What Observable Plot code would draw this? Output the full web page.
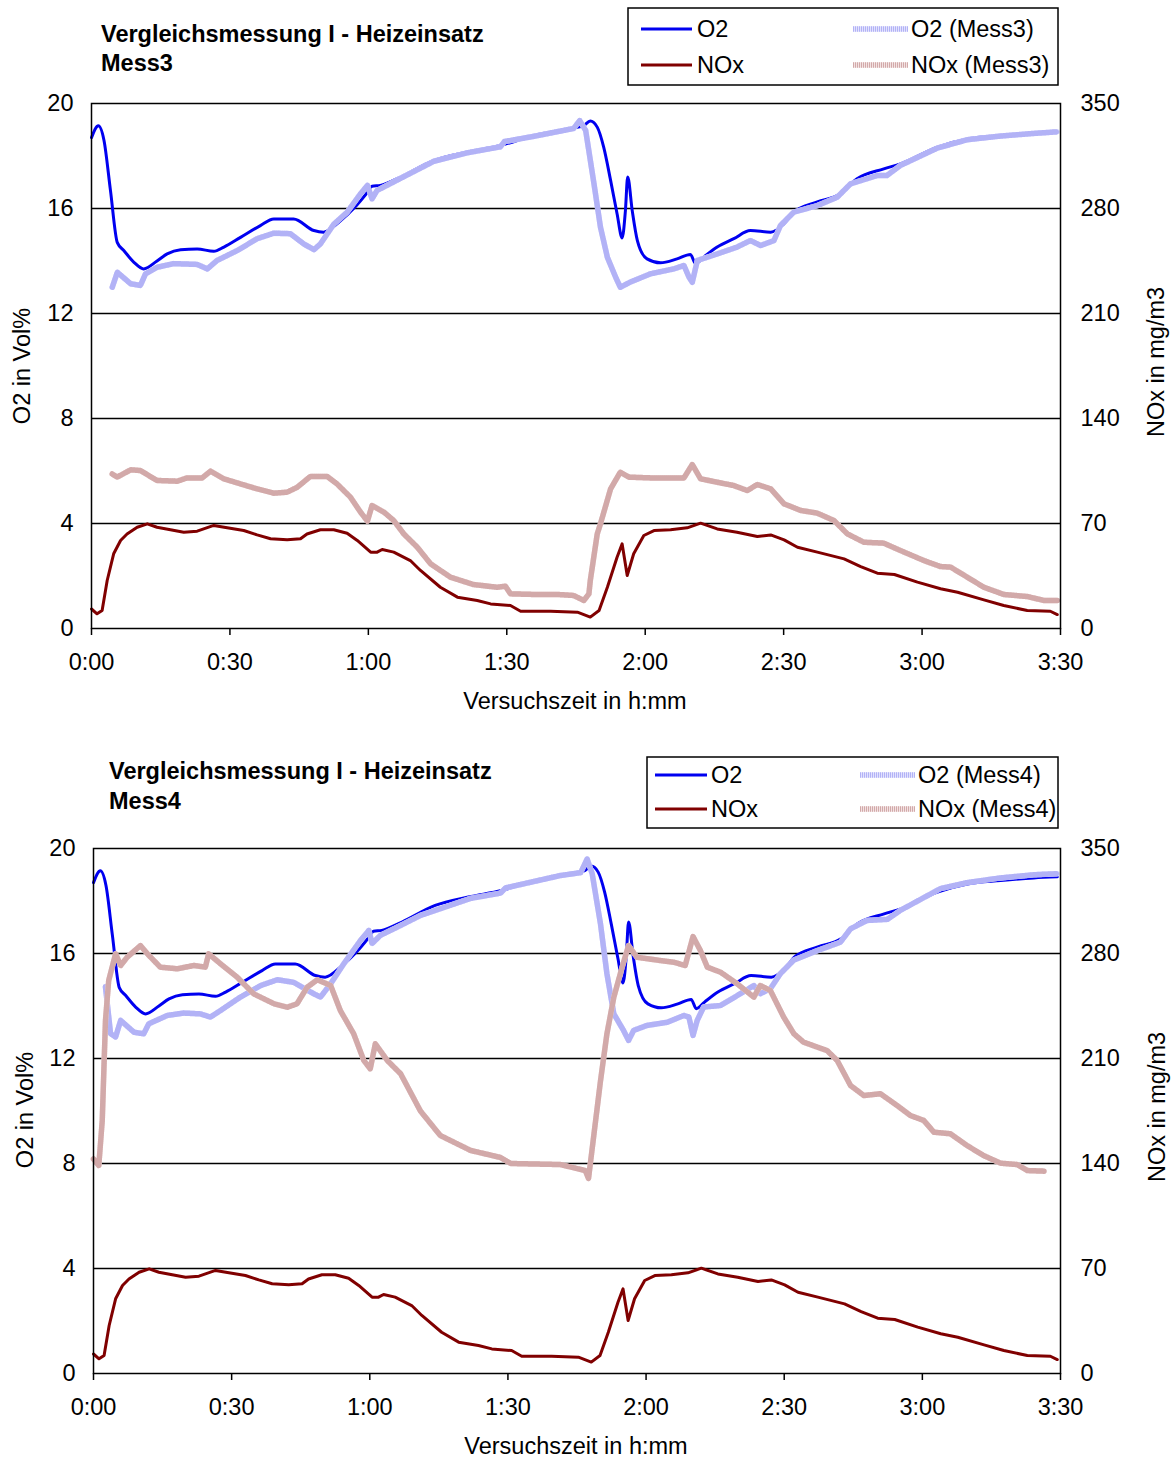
<!DOCTYPE html>
<html><head><meta charset="utf-8">
<script src="https://cdn.jsdelivr.net/npm/d3@7"></script>
<script src="https://cdn.jsdelivr.net/npm/@observablehq/plot@0.6"></script>
<style>
body{margin:0;background:#fff;font-family:"Liberation Sans",Arial,sans-serif;}
#page{position:relative;width:1173px;height:1461px;overflow:hidden;}
#page > svg{position:absolute;left:0;}
</style></head>
<body><div id="page"></div>
<script>
// ---------- axis ticks ----------
const xTicks = [0, 30, 60, 90, 120, 150, 180, 210];
const xTickLabels = ["0:00","0:30","1:00","1:30","2:00","2:30","3:00","3:30"];
const o2Ticks = [0, 4, 8, 12, 16, 20];
const noxTicks = [0, 70, 140, 210, 280, 350];
const o2Max = 20, noxMax = 350;

// ---------- reference O2 (Vol%) ----------
const tO2 = [0,1.5,2.7,4.1,5.6,7,9.2,11.3,14.2,16.4,19.3,22.9,26.5,28.7,32.3,36.6,39.5,43.8,48.2,50.3,54,56.8,59.8,60.8,62.6,67,74.2,81.4,88.6,95.9,104.5,106.7,108.1,109.6,111,112.5,113.9,115,115.7,116.2,117.2,118.3,120.4,123.3,126.9,129.8,130.9,132.7,135.6,139.2,142.8,147.2,150,152.2,157.3,162.3,165.9,171.7,175.3,183.3,189.8,197,204.2,209.3];
const vO2 = [18.7,19.15,18.6,16.7,14.7,14.4,13.95,13.7,14.0,14.27,14.43,14.46,14.37,14.53,14.9,15.35,15.6,15.6,15.16,15.1,15.54,16.0,16.62,16.85,16.88,17.2,17.83,18.15,18.4,18.78,19.07,19.16,19.33,19.1,18.34,17.07,15.8,14.88,15.9,17.2,15.9,14.78,14.08,13.93,14.08,14.25,13.9,14.15,14.53,14.85,15.16,15.1,15.4,15.86,16.25,16.56,17.13,17.51,17.7,18.34,18.65,18.78,18.88,18.92];

// ---------- reference NOx (mg/m3) ----------
const tNOx = [0,1.2,2.3,3.4,4.8,6.3,7.7,9.9,12.1,14.2,17.1,20,22.9,26.5,29.4,33,35.9,38.8,42.4,45.3,46.7,49.6,52.5,55.4,57.6,60.5,61.9,63,65.5,69.1,71.3,75.6,79.3,83.6,86.5,90.8,93,99.5,105.3,106.7,108.1,110,111.8,113.9,115,116.1,117.5,119.7,121.9,125.5,129.1,132,135.6,139.9,144.3,147.2,150.1,153,157.3,163.1,166.7,170.3,174,179,184,187.7,193.4,197.7,202.8,207.8,209.3];
const vNOx = [13,9.8,12,32,49.8,58.7,63,67.5,69.8,67.5,65.8,64.2,64.9,68.7,67.1,65.3,62.4,59.8,59.1,59.8,63,65.8,65.8,63.5,58.7,50.9,50.9,52.7,50.9,45.3,38.7,27.5,20.9,18.7,16.4,15.3,11.5,11.5,10.9,9.3,7.6,12,27.5,47.5,56.4,35.3,49.8,62,65.3,65.8,67.1,70.2,66.4,64.2,61.3,62.4,59.1,54.2,50.9,46.4,41.3,36.9,36,30.9,26.5,24.2,19.1,15.3,12,11.5,9.3];

// ---------- Mess3 O2 ----------
const tO2m3 = [4.5,5.6,8.5,10.6,11.7,14.2,17.8,22.9,25.1,27.2,31.6,35.9,39.5,43.1,46,48.2,49.6,52.5,55.4,58.3,59.8,60.8,61.9,62.6,67,74.2,81.4,88.6,89.5,95.9,104.5,105.8,107.1,108.9,110.3,111.8,113.6,114.6,116.8,121.1,126.2,128.4,129.5,130.2,131.3,135.6,139.9,142.8,145,147.9,149.3,152.2,157.3,161.6,164.5,170.3,172.4,175.3,183.3,189.8,197,204.2,209.3];
const vO2m3 = [13.0,13.57,13.13,13.07,13.51,13.76,13.9,13.87,13.7,14.02,14.4,14.85,15.06,15.04,14.65,14.43,14.65,15.4,15.86,16.56,16.88,16.37,16.69,16.75,17.15,17.8,18.12,18.35,18.55,18.75,19.05,19.35,18.97,16.94,15.29,14.14,13.38,13.0,13.2,13.51,13.7,13.83,13.38,13.19,14.02,14.27,14.53,14.78,14.59,14.78,15.35,15.86,16.11,16.43,16.94,17.26,17.26,17.64,18.3,18.62,18.76,18.86,18.92];

// ---------- Mess3 NOx ----------
const tNOxm3 = [4.5,5.6,8.5,10.6,14.2,18.6,20.7,24,25.8,28.7,32.3,35.9,39.5,42.4,44.6,47.4,51.1,53.2,56.1,58.3,59.8,60.8,63.4,65.5,67.7,70.6,73.5,77.8,82.8,87.9,89.7,90.8,95.9,101,104.5,106.7,107.8,108.1,109.6,110.3,112.5,114.6,116.5,121.2,128.4,130.2,132,135.6,139.2,142.1,144.3,147.2,150.1,153.7,157.3,160.9,163.8,167.4,171.7,175.3,180.4,184,186.2,189.8,193.4,197.7,202.8,206.4,209.3];
const vNOxm3 = [103,101,105.8,105.3,98.7,98.2,100.4,100.4,104.9,99.8,96.4,93.1,90.2,90.9,94.2,101.3,101.3,96.4,87.6,77.6,71.6,82,77.5,72,63,54.2,43.1,34.2,29.3,27.5,28.2,23.1,22.7,22.7,22,18.7,23.1,32,63,69.8,93.1,104.2,100.9,100.4,100.4,109.3,99.8,97.5,95.3,92,96,93.1,83.1,78.7,76.9,72,63.1,57.5,56.9,52,45.3,41.3,40.9,34.2,27.5,22.7,21.3,18.7,18.7];

// ---------- Mess4 O2 ----------
const tO2m4 = [2.6,3.7,4.8,5.9,8.8,10.9,12,16,19.6,23.2,25.4,27.6,31.9,36.3,39.9,43.5,47.8,49.3,51.5,54.4,58,59.8,60.5,62.3,66.7,71,81.9,88.4,89.5,101.4,105.8,107.2,108.3,110.1,111.5,113,115.1,116.2,117.3,120.2,124.6,128.2,129.3,130.2,131.1,132.5,136.2,140.5,143.4,144.8,147,149.2,152.1,157.2,162.2,164.4,168,172.4,175.2,183.9,189.7,197,204.2,209.3];
const vO2m4 = [14.73,12.95,12.82,13.45,13.0,12.94,13.32,13.64,13.73,13.7,13.58,13.83,14.34,14.78,15.0,14.9,14.47,14.34,14.85,15.62,16.5,16.88,16.38,16.69,17.07,17.45,18.1,18.3,18.5,18.97,19.08,19.6,19.04,17.13,15.23,13.7,13.07,12.69,13.07,13.26,13.38,13.64,13.58,12.88,13.45,13.96,14.02,14.47,14.78,14.47,14.66,15.24,15.75,16.11,16.43,16.94,17.26,17.3,17.64,18.47,18.7,18.88,19.0,19.04];

// ---------- Mess4 NOx ----------
const tNOxm4 = [0,1.15,1.9,2.6,3.3,4.8,5.9,7.3,10.2,11.7,14.5,18.2,21.8,24.3,25,27.6,31.2,34.8,39.2,42.1,44.2,46.4,48.6,51.5,53.6,56.5,58.7,60.1,61.2,63.8,66.7,71,75.3,81.9,88.4,90.6,101.4,106.8,107.5,110.1,111.5,113,114.8,116.2,118,123.1,126,128.5,130.2,131.8,133.3,136.2,139.8,143.4,144.8,147,149.9,152.1,154.2,159.3,161.5,164.4,167.3,170.9,174.5,177.4,180.3,182.5,186.1,189.7,193.3,197,200.6,202.8,206.4];
const vNOxm4 = [143,138.7,168.7,235.3,262,279.8,272,277.5,285.3,279.8,270.9,269.8,272,270.9,279.8,273.1,264.2,253.1,246.5,244.2,246.5,257.5,262.5,258.7,242,226.5,208.7,203.1,219.8,208.7,199.8,175,158.7,148.7,144,140,139.3,135.3,130,195,226.5,250.9,270.9,285.3,277.5,275.3,274.2,272,291.3,282,270.9,267.5,259.8,250.9,258.7,255.3,237.5,226.5,220.9,215.3,208.7,192,185.3,186.5,178.7,172,168.7,160.9,159.8,152,145.3,140.2,139.3,135.3,134.9];

// ---------- styles ----------
const FONT = "Liberation Sans, Arial, sans-serif";
const FS = 23.5;
const C_O2 = "#0000f0", C_NOX = "#800000";
const C_O2M_BASE = "#e2e2fd", C_O2M_DASH = "#b2b2f6";
const C_NOXM_BASE = "#f2e2e2", C_NOXM_DASH = "#d2a9a9";

const noxToO2 = v => v * o2Max / noxMax; // secondary-axis mapping onto the shared y scale

function hatched(t, v, base, dash, conv) {
  const y = conv ? v.map(conv) : v;
  return [
    Plot.line(v, {x: t, y, stroke: base, strokeWidth: 5.5, strokeLinejoin: "round"}),
    Plot.line(v, {x: t, y, stroke: dash, strokeWidth: 5.5, strokeDasharray: "1,1"})
  ];
}

function makeChart(opts) {
  const svg = Plot.plot({
    width: 1173, height: opts.height,
    marginLeft: opts.ml, marginRight: 113, marginTop: opts.mt, marginBottom: opts.mb,
    style: {fontFamily: FONT, fontSize: FS + "px", color: "#000", background: "transparent", overflow: "visible"},
    x: {domain: [0, 210]},
    y: {domain: [0, o2Max]},
    marks: [
      Plot.ruleY(o2Ticks.filter(d => d > 0 && d < o2Max), {stroke: "#000", strokeWidth: 1.5}),
      Plot.axisX(xTicks, {tickSize: 7, tickPadding: 18, strokeWidth: 1.5, tickFormat: (d, i) => xTickLabels[i], label: null, fontSize: FS}),
      Plot.axisY(o2Ticks, {anchor: "left", tickSize: 0, tickPadding: 18, label: null, fontSize: FS}),
      Plot.axisY(noxTicks.map(noxToO2), {anchor: "right", tickSize: 0, tickPadding: 20, label: null, fontSize: FS,
        tickFormat: (d, i) => String(noxTicks[i])}),
      Plot.line(vO2, {x: tO2, y: vO2, stroke: C_O2, strokeWidth: 3, curve: "monotone-x"}),
      Plot.line(vNOx, {x: tNOx, y: vNOx.map(noxToO2), stroke: C_NOX, strokeWidth: 3}),
      ...hatched(opts.tO2m, opts.vO2m, C_O2M_BASE, C_O2M_DASH),
      ...hatched(opts.tNOxm, opts.vNOxm, C_NOXM_BASE, C_NOXM_DASH, noxToO2),
      Plot.frame({stroke: "#000", strokeWidth: 1.5})
    ]
  });
  svg.style.top = opts.top + "px";
  return svg;
}

const page = document.getElementById("page");
page.appendChild(makeChart({top: 0, height: 720, ml: 91, mt: 103, mb: 92,
  tO2m: tO2m3, vO2m: vO2m3, tNOxm: tNOxm3, vNOxm: vNOxm3}));
page.appendChild(makeChart({top: 740, height: 721, ml: 93, mt: 108, mb: 88,
  tO2m: tO2m4, vO2m: vO2m4, tNOxm: tNOxm4, vNOxm: vNOxm4}));

// ---------- overlay: titles, legends, axis titles ----------
const ov = d3.select(page).append("svg")
  .attr("width", 1173).attr("height", 1461)
  .style("top", "0px")
  .attr("font-family", FONT).attr("font-size", FS);

function title(x, y1, y2, l1, l2) {
  const g = ov.append("g").attr("font-weight", "bold");
  g.append("text").attr("x", x).attr("y", y1).attr("dy", "0.35em").text(l1);
  g.append("text").attr("x", x).attr("y", y2).attr("dy", "0.35em").text(l2);
}
title(101, 34, 63, "Vergleichsmessung I - Heizeinsatz", "Mess3");
title(109, 771, 801, "Vergleichsmessung I - Heizeinsatz", "Mess4");

function legend(box, rows, c1, c2, labels) {
  const g = ov.append("g");
  g.append("rect").attr("x", box[0]).attr("y", box[1]).attr("width", box[2]).attr("height", box[3])
    .attr("fill", "#fff").attr("stroke", "#000").attr("stroke-width", 1.5);
  const items = [
    {col: c1, row: 0, label: labels[0], type: "solid", color: C_O2},
    {col: c1, row: 1, label: labels[1], type: "solid", color: C_NOX},
    {col: c2, row: 0, label: labels[2], type: "hatch", base: C_O2M_BASE, dash: C_O2M_DASH},
    {col: c2, row: 1, label: labels[3], type: "hatch", base: C_NOXM_BASE, dash: C_NOXM_DASH}
  ];
  for (const it of items) {
    const y = rows[it.row];
    if (it.type === "solid") {
      g.append("line").attr("x1", it.col[0]).attr("x2", it.col[1]).attr("y1", y).attr("y2", y)
        .attr("stroke", it.color).attr("stroke-width", 3);
    } else {
      g.append("line").attr("x1", it.col[0]).attr("x2", it.col[1]).attr("y1", y).attr("y2", y)
        .attr("stroke", it.base).attr("stroke-width", 5.5);
      g.append("line").attr("x1", it.col[0]).attr("x2", it.col[1]).attr("y1", y).attr("y2", y)
        .attr("stroke", it.dash).attr("stroke-width", 5.5).attr("stroke-dasharray", "1,1");
    }
    g.append("text").attr("x", it.col[2]).attr("y", y).attr("dy", "0.35em").text(it.label);
  }
}
legend([628, 8, 430, 77], [29, 65], [641, 692, 697], [853, 908, 911], ["O2", "NOx", "O2 (Mess3)", "NOx (Mess3)"]);
legend([647, 757, 411, 71], [775, 809], [655, 707, 711], [860, 915, 918], ["O2", "NOx", "O2 (Mess4)", "NOx (Mess4)"]);

function vlabel(x, y, s) {
  ov.append("text").attr("transform", `translate(${x},${y}) rotate(-90)`)
    .attr("text-anchor", "middle").attr("dy", "0.35em").text(s);
}
vlabel(22, 366, "O2 in Vol%");
vlabel(1156, 362, "NOx in mg/m3");
vlabel(25, 1110, "O2 in Vol%");
vlabel(1157, 1107, "NOx in mg/m3");

function hlabel(x, y, s) {
  ov.append("text").attr("x", x).attr("y", y).attr("text-anchor", "middle").attr("dy", "0.35em").text(s);
}
hlabel(575, 701, "Versuchszeit in h:mm");
hlabel(576, 1446, "Versuchszeit in h:mm");
</script>
</body></html>
